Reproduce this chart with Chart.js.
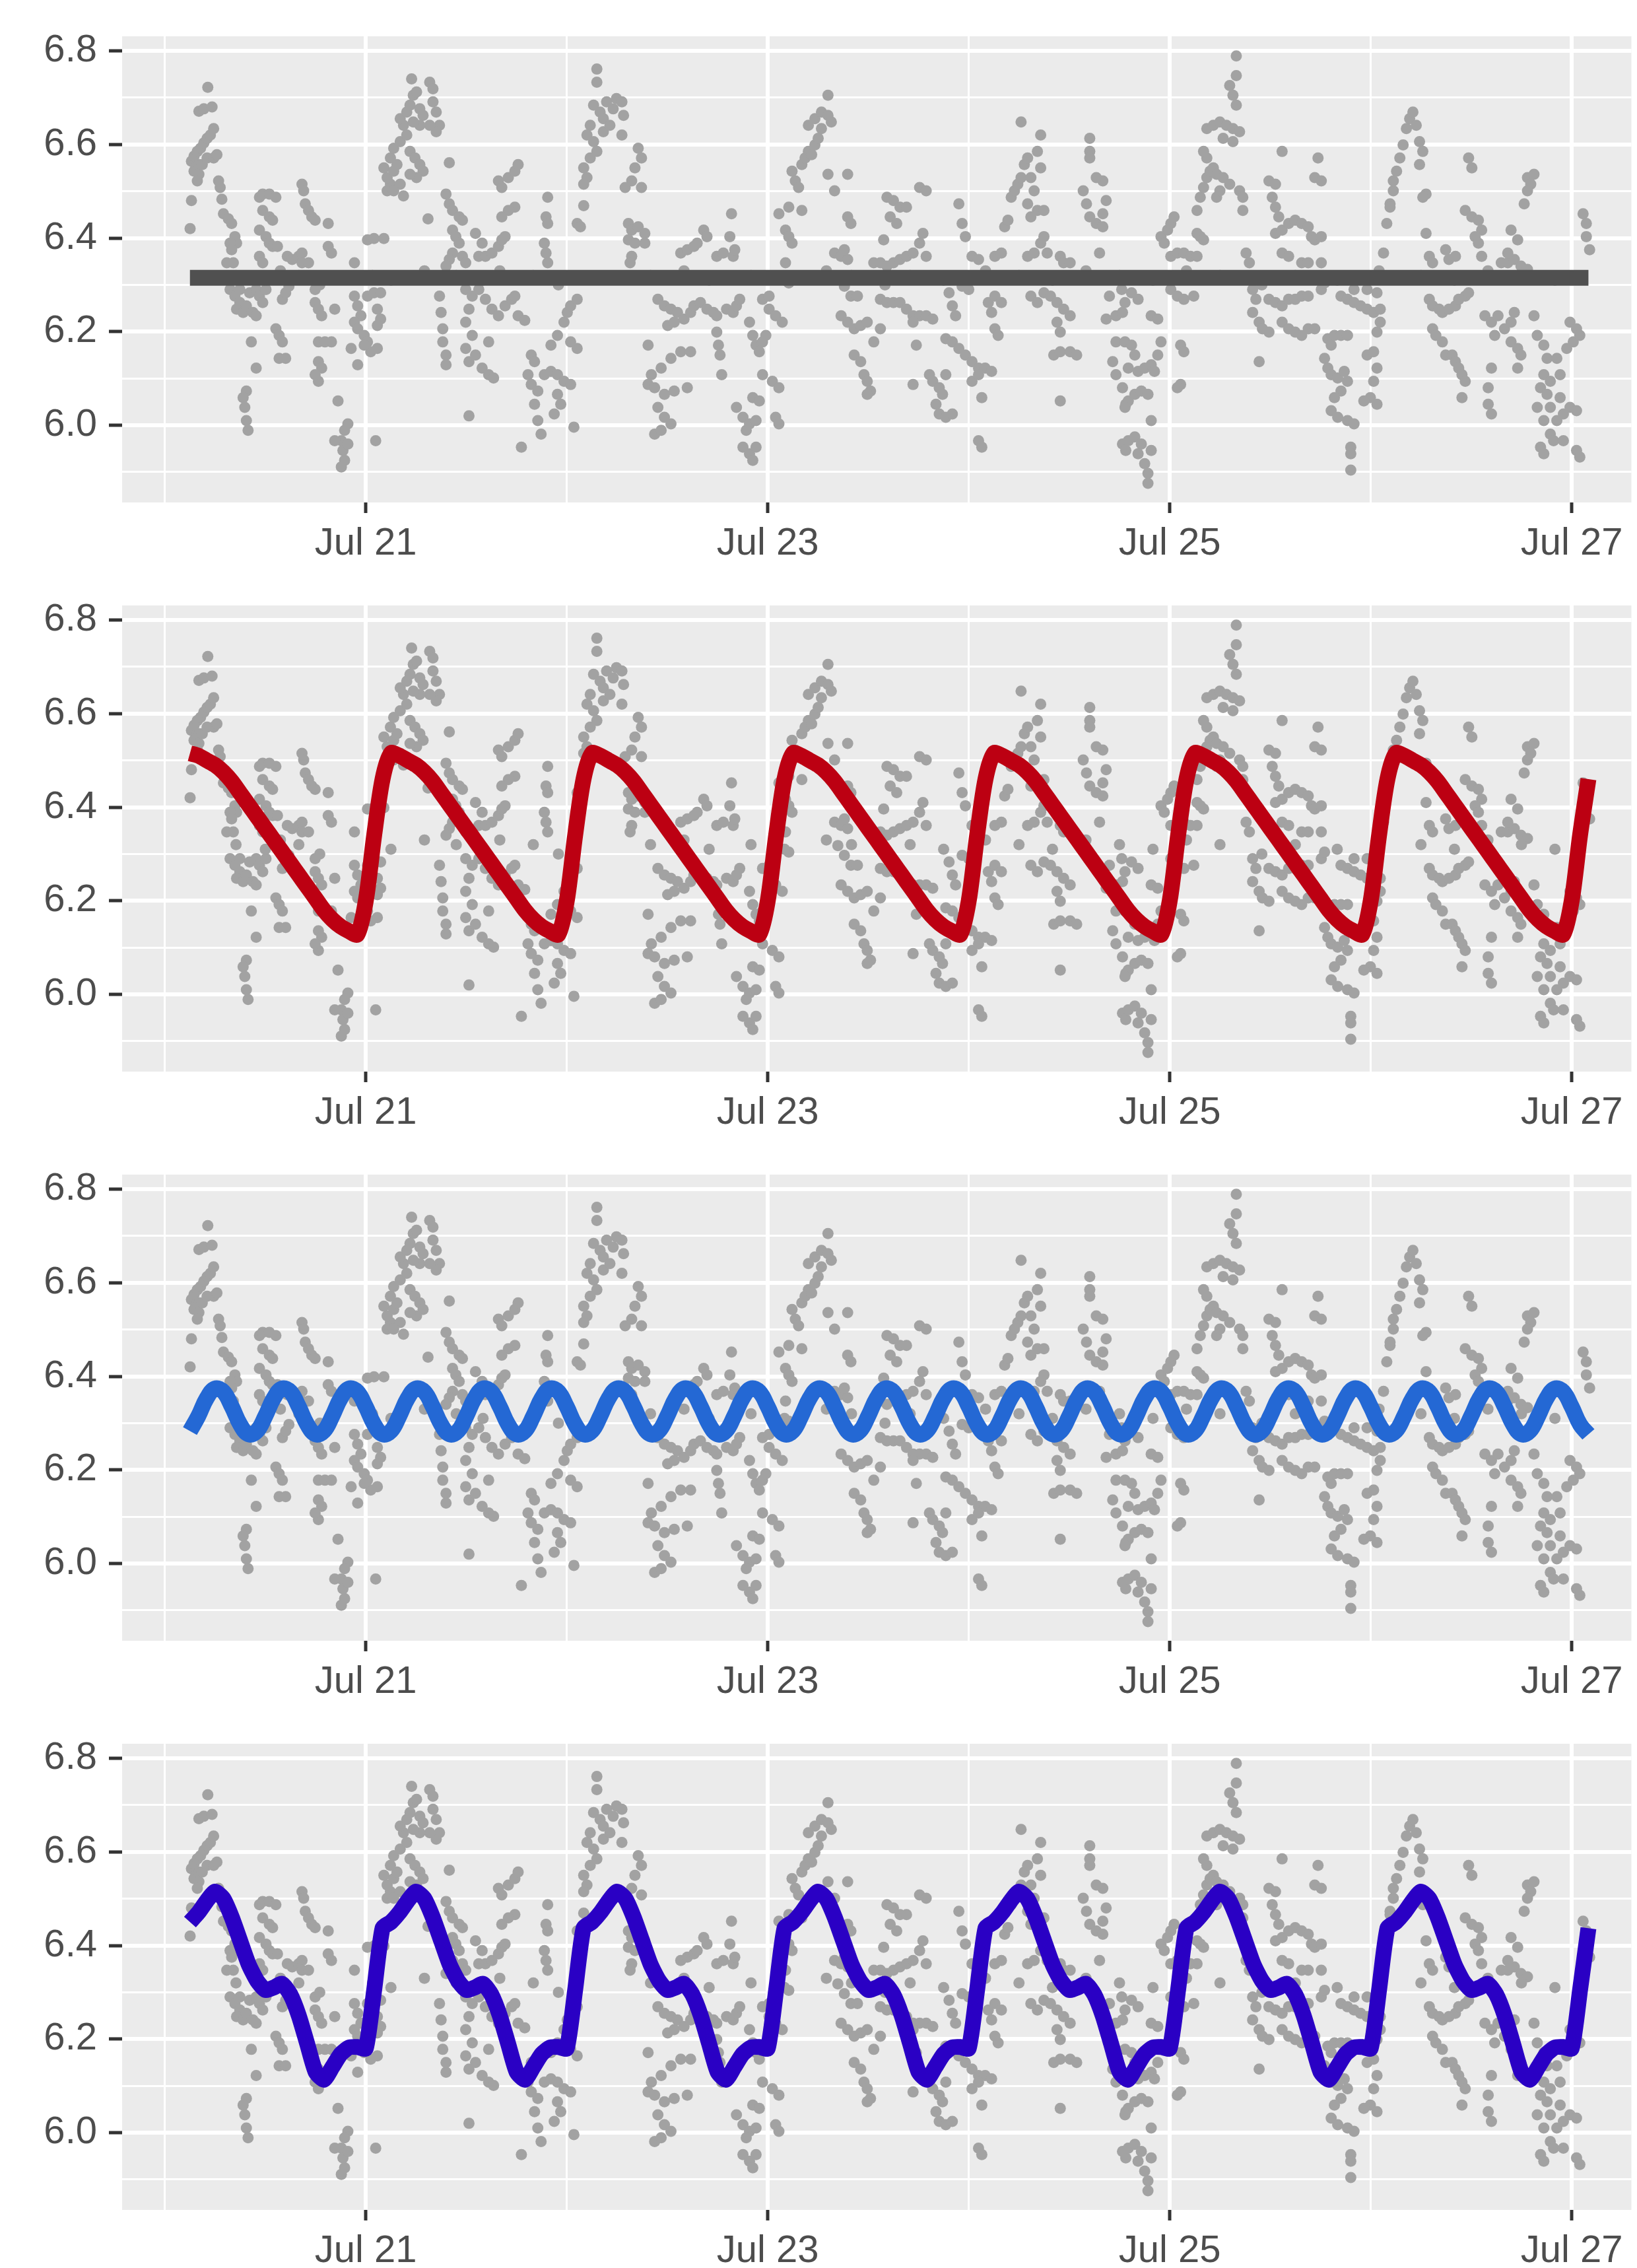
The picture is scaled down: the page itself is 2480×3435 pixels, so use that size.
<!DOCTYPE html>
<html>
<head>
<meta charset="utf-8">
<script src="https://cdn.jsdelivr.net/npm/chart.js@4.4.1/dist/chart.umd.min.js"></script>
<style>
  html, body { margin: 0; padding: 0; background: #ffffff; }
  #wrap { width: 2480px; height: 3435px; overflow: hidden; }
  .panel { width: 2480px; height: 862px; }
  canvas { display: block; }
</style>
</head>
<body>
<div id="wrap">
  <div class="panel"><canvas id="c0" width="2480" height="862"></canvas></div>
  <div class="panel"><canvas id="c1" width="2480" height="862"></canvas></div>
  <div class="panel"><canvas id="c2" width="2480" height="862"></canvas></div>
  <div class="panel"><canvas id="c3" width="2480" height="862"></canvas></div>
</div>
<script>
// time is in hours counted from Jul 20 00:00
const xTickHours = [24, 72, 120, 168];
const xTickLabels = ['Jul 21', 'Jul 23', 'Jul 25', 'Jul 27'];
const xMinorHours = [0, 48, 96, 144];
const yMajor = [6.0, 6.2, 6.4, 6.6, 6.8];
const yMinor = [5.9, 6.1, 6.3, 6.5, 6.7];

// observed readings [hour, value]
const readings = [
  [3.02,6.420],[3.18,6.480],[3.18,6.564],[3.49,6.575],[3.68,6.550],[3.49,6.543],[3.88,6.585],[4.07,6.557],[4.07,6.536],[3.88,6.522],
  [4.07,6.671],[4.27,6.592],[4.47,6.557],[4.66,6.603],[4.66,6.676],[5.05,6.613],[5.05,6.571],[5.13,6.722],[5.44,6.620],[5.64,6.680],
  [5.83,6.634],[5.83,6.571],[6.22,6.578],[6.42,6.522],[6.61,6.508],[6.81,6.483],[7.00,6.452],[7.59,6.441],[7.98,6.431],[8.37,6.403],
  [8.57,6.389],[7.79,6.389],[7.98,6.375],[7.40,6.347],[8.18,6.347],[7.79,6.290],[8.37,6.276],[8.96,6.262],[8.57,6.248],[9.35,6.241],
  [8.96,6.290],[10.13,6.283],[9.74,6.255],[10.52,6.241],[10.91,6.234],[10.33,6.178],[10.91,6.122],[9.74,6.073],[9.35,6.059],[9.55,6.038],
  [9.74,6.010],[9.94,5.989],
  [11.30,6.487],[11.69,6.494],[12.48,6.494],[13.26,6.487],[11.69,6.459],[12.48,6.445],[12.87,6.438],[11.30,6.417],[12.08,6.403],[12.48,6.389],
  [12.87,6.382],[13.45,6.382],[11.30,6.361],[11.69,6.347],[10.91,6.290],[11.30,6.276],[11.69,6.262],[12.08,6.290],
  [13.26,6.206],[13.65,6.192],[14.04,6.178],[13.65,6.143],[14.43,6.143],[14.04,6.269],[14.43,6.283],[14.82,6.297],[14.63,6.361],[15.21,6.354],
  [15.99,6.361],[16.38,6.368],[16.38,6.515],[16.58,6.501],[16.77,6.473],[17.16,6.459],[17.55,6.445],[17.95,6.438],[16.38,6.347],[17.16,6.347],
  [17.95,6.290],[17.95,6.262],[18.34,6.248],[18.73,6.234],[19.51,6.431],[19.51,6.382],[19.90,6.368],[20.29,6.248],[18.34,6.178],[19.12,6.178],
  [19.90,6.178],[18.34,6.136],[18.73,6.122],[18.34,6.094],[17.95,6.108],
  [20.68,6.052],[21.86,6.003],[21.47,5.989],[21.08,5.967],[21.27,5.946],[21.47,5.925],[21.08,5.911],[20.29,5.967],[21.86,5.960],
  [22.64,6.347],[22.64,6.276],[23.03,6.255],[23.42,6.234],[22.64,6.220],[23.03,6.206],[23.81,6.192],[24.20,6.178],[24.59,6.157],[25.38,6.164],
  [23.03,6.129],[23.81,6.171],[22.25,6.164],[24.20,6.276],[24.98,6.283],[25.77,6.283],[25.38,6.248],[25.77,6.227],[25.38,6.213],[24.20,6.396],
  [24.98,6.399],[26.16,6.399],[25.18,5.967],
  [26.55,6.501],[26.94,6.515],[26.55,6.529],[26.16,6.550],[27.33,6.543],[27.72,6.557],[26.94,6.571],[27.33,6.592],[28.11,6.606],[28.89,6.620],
  [28.50,6.641],[28.11,6.655],[28.89,6.669],[29.28,6.684],[29.67,6.705],[29.47,6.740],[30.06,6.712],[30.45,6.676],[30.84,6.662],[31.63,6.733],
  [32.02,6.719],[32.02,6.691],[32.41,6.669],[32.80,6.641],[32.41,6.627],[31.63,6.641],[30.45,6.641],[29.67,6.648],[29.28,6.585],[29.87,6.571],
  [30.45,6.557],[30.84,6.543],[30.06,6.529],[29.28,6.536],[28.11,6.515],[28.50,6.490],[27.33,6.501],
  [31.43,6.441],[33.97,6.561],[33.58,6.494],[33.97,6.473],[34.36,6.459],[35.15,6.445],[35.54,6.438],[34.36,6.417],[34.75,6.403],[35.15,6.389],
  [34.36,6.368],[33.97,6.354],[33.58,6.340],[35.54,6.361],[35.93,6.347],
  [32.80,6.276],[32.99,6.241],[33.19,6.206],[33.19,6.178],[33.58,6.150],[33.58,6.129],[36.32,6.020],[35.93,6.290],[36.71,6.276],[36.32,6.248],
  [35.93,6.220],[36.71,6.192],[35.93,6.164],[36.32,6.136],[37.10,6.150],[37.89,6.122],[38.67,6.108],[39.26,6.101],
  [37.10,6.410],[37.89,6.389],[37.49,6.361],[38.28,6.361],[39.06,6.368],[39.84,6.382],[40.24,6.396],[40.63,6.403],[39.84,6.522],[40.24,6.508],
  [41.02,6.529],[41.80,6.543],[42.19,6.557],[41.80,6.466],[41.02,6.459],[40.24,6.445],
  [37.49,6.290],[38.28,6.269],[39.06,6.248],[39.84,6.234],[40.63,6.255],[41.41,6.269],[41.80,6.276],[42.19,6.234],[42.98,6.224],[38.67,6.178],
  [42.58,5.953],[43.76,6.150],[44.15,6.136],[43.37,6.108],[43.76,6.087],[44.54,6.073],[44.15,6.045],[44.54,6.010],[44.93,5.981],[45.32,6.108],
  [46.11,6.115],[46.89,6.108],[47.67,6.094],[48.46,6.087],[46.89,6.066],[46.50,6.024],[47.28,6.045],[48.85,5.996],[46.11,6.171],[46.89,6.192],
  [47.67,6.220],[48.06,6.241],[48.46,6.255],[49.24,6.269],[49.24,6.164],[48.46,6.178],
  [45.32,6.389],[45.52,6.368],[45.72,6.347],[45.72,6.487],[45.52,6.445],[45.72,6.431],[49.24,6.431],[50.02,6.469],[49.63,6.424],
  [51.59,6.761],[51.59,6.733],[51.20,6.684],[51.98,6.669],[52.37,6.655],[50.80,6.641],[50.41,6.620],[51.20,6.606],[51.59,6.585],[50.80,6.571],
  [50.02,6.550],[50.41,6.529],[50.02,6.515],[52.37,6.627],[53.15,6.641],[53.54,6.676],[52.76,6.691],[53.93,6.698],
  [54.58,6.691],[54.78,6.662],[54.58,6.620],[56.53,6.592],[56.92,6.571],[56.14,6.550],[55.75,6.522],[56.92,6.508],[54.97,6.508],[55.36,6.431],
  [55.75,6.417],[56.53,6.424],[57.32,6.410],[55.36,6.396],[56.14,6.389],[57.32,6.389],[55.75,6.361],[55.56,6.347],
  [57.71,6.171],[58.10,6.108],[59.27,6.122],[60.44,6.143],[61.61,6.157],[62.79,6.157],[57.71,6.087],[58.49,6.080],[59.66,6.066],[60.83,6.073],
  [62.39,6.080],[58.88,6.038],[59.66,6.017],[60.44,6.003],[58.49,5.981],[59.27,5.989],
  [58.88,6.269],[59.66,6.255],[60.44,6.248],[61.22,6.241],[60.05,6.213],[60.83,6.220],[62.00,6.227],[62.79,6.241],[63.18,6.255],[63.96,6.262],
  [64.74,6.248],[65.52,6.241],[65.91,6.234],[67.08,6.248],[67.87,6.241],[68.26,6.255],[68.65,6.269],
  [61.61,6.368],[62.39,6.375],[63.18,6.382],[63.57,6.389],[64.35,6.417],[64.74,6.403],[65.91,6.361],[66.69,6.368],[67.47,6.403],[67.67,6.452],
  [67.87,6.361],[68.06,6.375],[65.91,6.199],[66.11,6.171],[66.30,6.150],[66.50,6.108],
  [68.26,6.038],[69.04,6.017],[69.82,6.003],[69.43,5.989],[70.60,6.010],[70.21,6.059],[70.99,6.052],[69.04,5.953],[69.82,5.939],[70.21,5.925],
  [70.60,5.953],[71.38,6.108],[72.55,6.094],[73.33,6.080],[72.94,6.017],[73.33,6.003],
  [69.82,6.220],[70.21,6.192],[70.60,6.171],[70.99,6.157],[71.38,6.178],[71.77,6.192],[72.16,6.248],[72.94,6.234],[73.73,6.220],[71.38,6.269],
  [72.16,6.276],
  [73.33,6.452],[74.51,6.466],[76.07,6.459],[74.12,6.417],[74.51,6.403],[74.90,6.389],[74.12,6.347],[74.51,6.304],
  [74.90,6.543],[75.29,6.522],[75.68,6.508],[76.07,6.557],[76.46,6.571],[76.85,6.585],[77.24,6.578],[77.63,6.599],[78.02,6.613],[78.41,6.634],
  [76.85,6.641],[77.63,6.655],[78.41,6.669],[79.19,6.662],[79.59,6.648],[79.19,6.705],[79.19,6.536],[79.98,6.501],[81.54,6.536],[81.54,6.445],
  [81.93,6.431],
  [79.98,6.368],[80.76,6.361],[81.54,6.354],[81.15,6.375],[80.37,6.318],[81.15,6.297],[81.93,6.276],[82.71,6.276],[80.76,6.234],[81.54,6.220],
  [82.32,6.206],[83.10,6.213],[83.88,6.220],[84.66,6.178],[85.45,6.206],[82.32,6.150],[83.10,6.136],[83.49,6.108],[83.88,6.094],[84.27,6.073],
  [83.88,6.066],
  [86.23,6.487],[87.01,6.480],[87.79,6.466],[88.57,6.466],[86.62,6.445],[87.40,6.431],[85.84,6.396],[90.13,6.508],[90.92,6.501],
  [84.66,6.347],[85.45,6.347],[86.23,6.340],[87.01,6.347],[87.79,6.354],[88.57,6.361],[89.35,6.368],[90.13,6.389],[90.53,6.410],[90.92,6.361],
  [85.45,6.269],[86.23,6.262],[87.01,6.262],[87.79,6.262],[88.57,6.248],[89.35,6.234],[90.13,6.234],[89.35,6.220],[90.92,6.234],[91.70,6.227],
  [89.74,6.171],[89.35,6.087],
  [91.31,6.108],[91.70,6.094],[92.48,6.080],[93.26,6.108],[92.87,6.066],[92.09,6.045],[92.48,6.024],[93.26,6.017],[94.04,6.024],
  [93.26,6.185],[94.04,6.178],[94.82,6.164],[95.60,6.150],[96.39,6.136],[97.17,6.122],[97.95,6.122],[98.73,6.115],[96.39,6.094],[97.17,6.108],
  [94.82,6.473],[95.21,6.431],[95.60,6.403],[96.39,6.361],[97.17,6.354],[97.56,6.059],[97.17,5.967],[97.56,5.953],
  [93.65,6.283],[94.04,6.255],[94.43,6.234],[95.21,6.297],[96.00,6.290],
  [98.34,6.262],[99.12,6.276],[99.90,6.262],[98.73,6.241],[99.12,6.206],[99.51,6.192],
  [99.12,6.361],[99.90,6.368],[100.29,6.424],[100.68,6.438],[101.07,6.487],[101.46,6.501],[101.86,6.515],[102.25,6.529],[102.64,6.557],[103.03,6.571],
  [102.25,6.648],[104.59,6.620],[104.20,6.585],[104.59,6.550],[103.42,6.529],[103.81,6.501],[103.03,6.473],[104.20,6.459],[104.98,6.459],[103.42,6.445],
  [103.03,6.361],[103.81,6.368],[104.59,6.389],[104.98,6.403],[105.37,6.368],
  [103.42,6.276],[104.20,6.262],[104.98,6.283],[105.76,6.276],[106.54,6.262],[107.33,6.248],[108.11,6.234],[106.54,6.220],[106.93,6.199],[106.15,6.150],
  [106.93,6.157],[108.11,6.157],[108.89,6.150],[106.93,6.052],
  [106.93,6.361],[107.33,6.347],[108.11,6.347],
  [110.45,6.613],[110.45,6.585],[110.45,6.571],[109.67,6.501],[110.06,6.473],[110.45,6.445],[111.23,6.431],[112.01,6.424],[112.01,6.452],[112.41,6.480],
  [112.01,6.522],[111.23,6.529],[111.62,6.368],
  [112.80,6.276],[112.41,6.227],[113.58,6.234],[114.36,6.241],[113.58,6.178],[113.19,6.136],[113.58,6.108],[114.36,6.080],[114.75,6.045],[114.36,5.960],
  [114.75,5.946],
  [114.66,6.178],[115.44,6.171],[115.83,6.150],[115.05,6.122],[116.22,6.115],[117.01,6.122],[117.79,6.129],[115.05,6.052],[115.83,6.066],[116.61,6.073],
  [117.40,6.066],[114.66,6.038],[117.79,6.010],[115.05,5.967],[115.83,5.975],[116.61,5.960],[117.79,5.946],[117.01,5.918],[117.40,5.897],[117.40,5.876],
  [116.22,5.939],
  [114.27,6.290],[114.66,6.262],[115.44,6.283],[116.22,6.269],[117.79,6.234],[118.57,6.227],[118.96,6.178],[118.57,6.150],[118.18,6.115],
  [118.96,6.403],[119.74,6.417],[120.13,6.431],[120.52,6.445],[119.35,6.389],[120.13,6.361],[120.91,6.368],[121.69,6.368],[122.48,6.361],[123.26,6.361],
  [120.13,6.290],[120.91,6.276],[121.69,6.269],[122.87,6.276],[121.30,6.171],[121.69,6.157],[121.30,6.087],[120.91,6.080],
  [123.26,6.410],[123.65,6.403],[124.04,6.396],[123.26,6.459],[123.65,6.487],[124.04,6.508],[124.43,6.529],[124.82,6.543],[124.43,6.571],[124.04,6.585],
  [125.21,6.550],[125.60,6.536],[126.38,6.529],[127.16,6.515],[128.34,6.501],[128.73,6.487],[128.73,6.459],[125.60,6.487],[125.99,6.501],
  [124.43,6.634],[125.21,6.641],[125.99,6.648],[126.77,6.641],[127.55,6.634],[128.34,6.627],[126.38,6.613],[127.55,6.606],[127.95,6.684],[127.55,6.705],
  [127.16,6.726],[127.95,6.747],[127.95,6.789],
  [129.12,6.368],[129.51,6.347],[129.90,6.290],[130.29,6.269],[129.90,6.241],[130.68,6.220],[131.07,6.206],[131.85,6.199],[130.68,6.136],
  [131.85,6.522],[132.63,6.515],[132.24,6.487],[132.63,6.466],[133.02,6.445],[132.63,6.410],[133.42,6.417],[134.20,6.431],[134.98,6.438],[135.76,6.431],
  [136.54,6.424],[136.93,6.403],[137.32,6.396],[138.10,6.403],[133.42,6.368],[134.20,6.361],[135.76,6.347],[136.54,6.347],[138.10,6.347],[133.42,6.585],
  [137.71,6.571],[137.32,6.529],[138.10,6.522],
  [131.85,6.269],[132.63,6.262],[133.42,6.255],[134.20,6.269],[134.98,6.269],[135.76,6.276],[136.54,6.276],[133.42,6.220],[134.20,6.206],[134.98,6.199],
  [135.76,6.192],[136.54,6.206],[137.32,6.206],[138.10,6.290],[138.49,6.304],
  [138.88,6.185],[139.28,6.171],[139.67,6.192],[140.45,6.192],[141.23,6.192],[138.49,6.143],[138.88,6.122],[139.28,6.108],[140.06,6.101],[140.84,6.115],
  [141.23,6.094],[140.45,6.073],[139.67,6.059],[139.28,6.031],[140.06,6.017],[141.23,6.010],[142.01,6.003],[141.62,5.953],[141.62,5.939],[141.62,5.904],
  [143.57,6.150],[144.35,6.157],[144.75,6.122],[144.35,6.094],[143.96,6.059],[144.75,6.045],[143.18,6.052],
  [140.45,6.276],[141.23,6.269],[142.01,6.262],[142.79,6.255],[143.57,6.248],[144.35,6.241],[145.14,6.220],[144.75,6.199],[142.01,6.290],[143.57,6.290],
  [144.75,6.283],[145.14,6.248],
  [145.53,6.368],[145.92,6.431],[146.31,6.473],[146.70,6.501],[147.09,6.543],[147.48,6.571],[147.87,6.599],[148.26,6.634],[148.65,6.655],[149.04,6.669],
  [149.44,6.641],[149.83,6.606],[150.22,6.585],[149.83,6.557],[150.61,6.494],[150.22,6.487],[146.70,6.522],[146.31,6.466],
  [150.61,6.410],[151.00,6.361],[151.39,6.347],[152.95,6.375],[153.34,6.354],[154.12,6.361],
  [151.00,6.269],[151.39,6.255],[152.17,6.248],[152.56,6.241],[153.34,6.248],[154.12,6.255],[154.51,6.269],[151.39,6.206],[151.78,6.192],[152.56,6.178],
  [152.95,6.150],[153.73,6.150],[154.12,6.136],[154.51,6.122],[154.90,6.108],[155.29,6.094],[154.90,6.059],
  [155.29,6.459],[156.08,6.445],[156.86,6.438],[157.25,6.417],[156.47,6.403],[156.86,6.389],[157.25,6.361],[155.69,6.571],[156.08,6.550],[155.29,6.276],
  [155.69,6.283],
  [157.64,6.234],[158.42,6.220],[159.20,6.234],[158.81,6.192],[159.98,6.206],[160.76,6.220],[161.15,6.241],[158.42,6.122],[158.03,6.080],[158.03,6.045],
  [158.42,6.024],[160.76,6.178],[161.55,6.164],[161.94,6.150],[161.55,6.122],
  [159.59,6.347],[160.37,6.347],[161.15,6.354],[161.55,6.396],[160.76,6.417],[160.37,6.368],[161.94,6.340],
  [162.72,6.529],[163.11,6.515],[163.50,6.536],[162.72,6.501],[162.33,6.473],[162.72,6.333],
  [163.50,6.234],[163.89,6.192],[164.67,6.171],[165.06,6.143],[164.67,6.108],[165.45,6.094],[166.62,6.108],[164.28,6.080],[165.06,6.066],[165.45,6.038],
  [163.89,6.038],[164.67,6.010],[165.45,5.981],[166.23,6.010],[167.01,6.024],[167.80,6.038],[168.58,6.031],[166.62,6.059],[166.23,6.143],[167.41,6.164],
  [168.19,6.178],[167.80,6.220],[168.58,6.206],[168.97,6.192],[164.28,5.953],[164.67,5.939],[165.84,5.967],[167.01,5.967],[168.58,5.946],[168.97,5.932],
  [169.36,6.452],[169.75,6.431],[169.75,6.403],[170.14,6.375],
  // readings lying under the flat line of the first panel
  [8.5,6.32],[12.0,6.31],[13.8,6.33],[16.0,6.32],[18.5,6.30],[24.8,6.32],[27.0,6.31],[31.0,6.33],[34.8,6.32],[38.0,6.31],
  [40.0,6.33],[44.0,6.32],[47.0,6.30],[58.0,6.32],[62.0,6.33],[65.0,6.31],[70.0,6.32],[74.0,6.31],[79.0,6.33],[82.0,6.32],
  [86.0,6.30],[89.0,6.32],[93.0,6.31],[98.0,6.33],[102.0,6.32],[106.0,6.31],[110.0,6.33],[114.0,6.32],[118.0,6.31],[122.0,6.33],
  [126.0,6.32],[131.0,6.30],[135.0,6.32],[140.0,6.31],[145.0,6.33],[150.0,6.32],[154.0,6.31],[158.0,6.33],[162.0,6.32],[166.0,6.31]
];

// fitted curves
const flatFitHours = [3, 170];
const flatFit = [6.315, 6.315];

// hourly curves, first value at Jul 20 03:00, last at Jul 27 02:00
const fitStartHour = 3;

const dailyFit = [
  6.515, 6.51, 6.50, 6.49, 6.475, 6.455, 6.43, 6.405, 6.38, 6.355, 6.33, 6.305, 6.28, 6.255, 6.23, 6.205, 6.18, 6.16, 6.145, 6.135, 6.128,
  6.20, 6.34, 6.46, 6.515, 6.51, 6.50, 6.49, 6.475, 6.455, 6.43, 6.405, 6.38, 6.355, 6.33, 6.305, 6.28, 6.255, 6.23, 6.205, 6.18, 6.16, 6.145, 6.135, 6.128,
  6.20, 6.34, 6.46, 6.515, 6.51, 6.50, 6.49, 6.475, 6.455, 6.43, 6.405, 6.38, 6.355, 6.33, 6.305, 6.28, 6.255, 6.23, 6.205, 6.18, 6.16, 6.145, 6.135, 6.128,
  6.20, 6.34, 6.46, 6.515, 6.51, 6.50, 6.49, 6.475, 6.455, 6.43, 6.405, 6.38, 6.355, 6.33, 6.305, 6.28, 6.255, 6.23, 6.205, 6.18, 6.16, 6.145, 6.135, 6.128,
  6.20, 6.34, 6.46, 6.515, 6.51, 6.50, 6.49, 6.475, 6.455, 6.43, 6.405, 6.38, 6.355, 6.33, 6.305, 6.28, 6.255, 6.23, 6.205, 6.18, 6.16, 6.145, 6.135, 6.128,
  6.20, 6.34, 6.46, 6.515, 6.51, 6.50, 6.49, 6.475, 6.455, 6.43, 6.405, 6.38, 6.355, 6.33, 6.305, 6.28, 6.255, 6.23, 6.205, 6.18, 6.16, 6.145, 6.135, 6.128,
  6.20, 6.34, 6.46, 6.515, 6.51, 6.50, 6.49, 6.475, 6.455, 6.43, 6.405, 6.38, 6.355, 6.33, 6.305, 6.28, 6.255, 6.23, 6.205, 6.18, 6.16, 6.145, 6.135, 6.128,
  6.20, 6.34, 6.46
];

const eightHourFit = [
  6.283, 6.315, 6.353, 6.374, 6.367, 6.335, 6.297, 6.276, 6.283, 6.315, 6.353, 6.374, 6.367, 6.335, 6.297, 6.276, 6.283, 6.315, 6.353, 6.374, 6.367, 6.335, 6.297, 6.276,
  6.283, 6.315, 6.353, 6.374, 6.367, 6.335, 6.297, 6.276, 6.283, 6.315, 6.353, 6.374, 6.367, 6.335, 6.297, 6.276, 6.283, 6.315, 6.353, 6.374, 6.367, 6.335, 6.297, 6.276,
  6.283, 6.315, 6.353, 6.374, 6.367, 6.335, 6.297, 6.276, 6.283, 6.315, 6.353, 6.374, 6.367, 6.335, 6.297, 6.276, 6.283, 6.315, 6.353, 6.374, 6.367, 6.335, 6.297, 6.276,
  6.283, 6.315, 6.353, 6.374, 6.367, 6.335, 6.297, 6.276, 6.283, 6.315, 6.353, 6.374, 6.367, 6.335, 6.297, 6.276, 6.283, 6.315, 6.353, 6.374, 6.367, 6.335, 6.297, 6.276,
  6.283, 6.315, 6.353, 6.374, 6.367, 6.335, 6.297, 6.276, 6.283, 6.315, 6.353, 6.374, 6.367, 6.335, 6.297, 6.276, 6.283, 6.315, 6.353, 6.374, 6.367, 6.335, 6.297, 6.276,
  6.283, 6.315, 6.353, 6.374, 6.367, 6.335, 6.297, 6.276, 6.283, 6.315, 6.353, 6.374, 6.367, 6.335, 6.297, 6.276, 6.283, 6.315, 6.353, 6.374, 6.367, 6.335, 6.297, 6.276,
  6.283, 6.315, 6.353, 6.374, 6.367, 6.335, 6.297, 6.276, 6.283, 6.315, 6.353, 6.374, 6.367, 6.335, 6.297, 6.276, 6.283, 6.315, 6.353, 6.374, 6.367, 6.335, 6.297, 6.276
];

const comboFit = [
  6.45, 6.47, 6.495, 6.515, 6.50, 6.46, 6.41, 6.36, 6.325, 6.305, 6.31, 6.318, 6.295, 6.25, 6.19, 6.13, 6.113, 6.14, 6.168, 6.182, 6.183,
  6.18, 6.305, 6.437, 6.45, 6.47, 6.495, 6.515, 6.50, 6.46, 6.41, 6.36, 6.325, 6.305, 6.31, 6.318, 6.295, 6.25, 6.19, 6.13, 6.113, 6.14, 6.168, 6.182, 6.183,
  6.18, 6.305, 6.437, 6.45, 6.47, 6.495, 6.515, 6.50, 6.46, 6.41, 6.36, 6.325, 6.305, 6.31, 6.318, 6.295, 6.25, 6.19, 6.13, 6.113, 6.14, 6.168, 6.182, 6.183,
  6.18, 6.305, 6.437, 6.45, 6.47, 6.495, 6.515, 6.50, 6.46, 6.41, 6.36, 6.325, 6.305, 6.31, 6.318, 6.295, 6.25, 6.19, 6.13, 6.113, 6.14, 6.168, 6.182, 6.183,
  6.18, 6.305, 6.437, 6.45, 6.47, 6.495, 6.515, 6.50, 6.46, 6.41, 6.36, 6.325, 6.305, 6.31, 6.318, 6.295, 6.25, 6.19, 6.13, 6.113, 6.14, 6.168, 6.182, 6.183,
  6.18, 6.305, 6.437, 6.45, 6.47, 6.495, 6.515, 6.50, 6.46, 6.41, 6.36, 6.325, 6.305, 6.31, 6.318, 6.295, 6.25, 6.19, 6.13, 6.113, 6.14, 6.168, 6.182, 6.183,
  6.18, 6.305, 6.437, 6.45, 6.47, 6.495, 6.515, 6.50, 6.46, 6.41, 6.36, 6.325, 6.305, 6.31, 6.318, 6.295, 6.25, 6.19, 6.13, 6.113, 6.14, 6.168, 6.182, 6.183,
  6.18, 6.305, 6.437
];

const FONT = "'Liberation Sans', Arial, sans-serif";

const panelBg = {
  id: 'panelBg',
  beforeDraw(chart) {
    const a = chart.chartArea;
    const ctx = chart.ctx;
    ctx.save();
    ctx.fillStyle = '#EBEBEB';
    ctx.fillRect(a.left, a.top, a.right - a.left, a.bottom - a.top);
    ctx.restore();
  }
};

function hourly(values) {
  return values.map((v, i) => ({ x: fitStartHour + i, y: v }));
}

function makePanel(id, fitData, color, tension) {
  new Chart(document.getElementById(id), {
    type: 'scatter',
    data: {
      datasets: [
        {
          type: 'line',
          data: fitData,
          borderColor: color,
          borderWidth: 24,
          borderCapStyle: 'butt',
          borderJoinStyle: 'round',
          pointRadius: 0,
          fill: false,
          tension: tension,
          order: 0
        },
        {
          type: 'scatter',
          data: readings.map(r => ({ x: r[0], y: r[1] })),
          pointRadius: 8.5,
          pointBackgroundColor: '#A2A2A2',
          pointBorderWidth: 0,
          pointHoverRadius: 0,
          order: 1
        }
      ]
    },
    options: {
      responsive: false,
      devicePixelRatio: 1,
      animation: false,
      events: [],
      layout: { padding: { top: 55, left: 0, right: 0, bottom: 0 } },
      plugins: { legend: { display: false }, tooltip: { enabled: false } },
      scales: {
        x: {
          type: 'linear',
          min: -5.1,
          max: 175.13,
          afterBuildTicks: axis => {
            axis.ticks = xMinorHours.map(v => ({ value: v, major: false }))
              .concat(xTickHours.map(v => ({ value: v, major: true })))
              .sort((a, b) => a.value - b.value);
          },
          afterFit: axis => { axis.height = 101; },
          border: { display: false },
          grid: {
            color: '#FFFFFF',
            lineWidth: c => (c.tick && c.tick.major ? 6 : 3),
            tickColor: c => (c.tick && c.tick.major ? '#333333' : 'rgba(0,0,0,0)'),
            tickLength: 16,
            tickWidth: 5
          },
          ticks: {
            autoSkip: false,
            maxRotation: 0,
            padding: 12,
            color: '#4D4D4D',
            font: { family: FONT, size: 58 },
            callback: v => {
              const i = xTickHours.indexOf(v);
              return i >= 0 ? xTickLabels[i] : '';
            }
          }
        },
        y: {
          type: 'linear',
          min: 5.835,
          max: 6.831,
          afterBuildTicks: axis => {
            axis.ticks = yMinor.map(v => ({ value: v, major: false }))
              .concat(yMajor.map(v => ({ value: v, major: true })))
              .sort((a, b) => a.value - b.value);
          },
          afterFit: axis => { axis.width = 185; },
          border: { display: false },
          grid: {
            color: '#FFFFFF',
            lineWidth: c => (c.tick && c.tick.major ? 6 : 3),
            tickColor: c => (c.tick && c.tick.major ? '#333333' : 'rgba(0,0,0,0)'),
            tickLength: 20,
            tickWidth: 5
          },
          ticks: {
            autoSkip: false,
            padding: 18,
            color: '#4D4D4D',
            font: { family: FONT, size: 58 },
            callback: v => (yMajor.indexOf(v) >= 0 ? v.toFixed(1) : '')
          }
        }
      }
    },
    plugins: [panelBg]
  });
}

makePanel('c0', flatFitHours.map((h, i) => ({ x: h, y: flatFit[i] })), '#505050', 0);
makePanel('c1', hourly(dailyFit), '#BC0012', 0.3);
makePanel('c2', hourly(eightHourFit), '#2468D4', 0.4);
makePanel('c3', hourly(comboFit), '#2A00C4', 0.2);
</script>
</body>
</html>
